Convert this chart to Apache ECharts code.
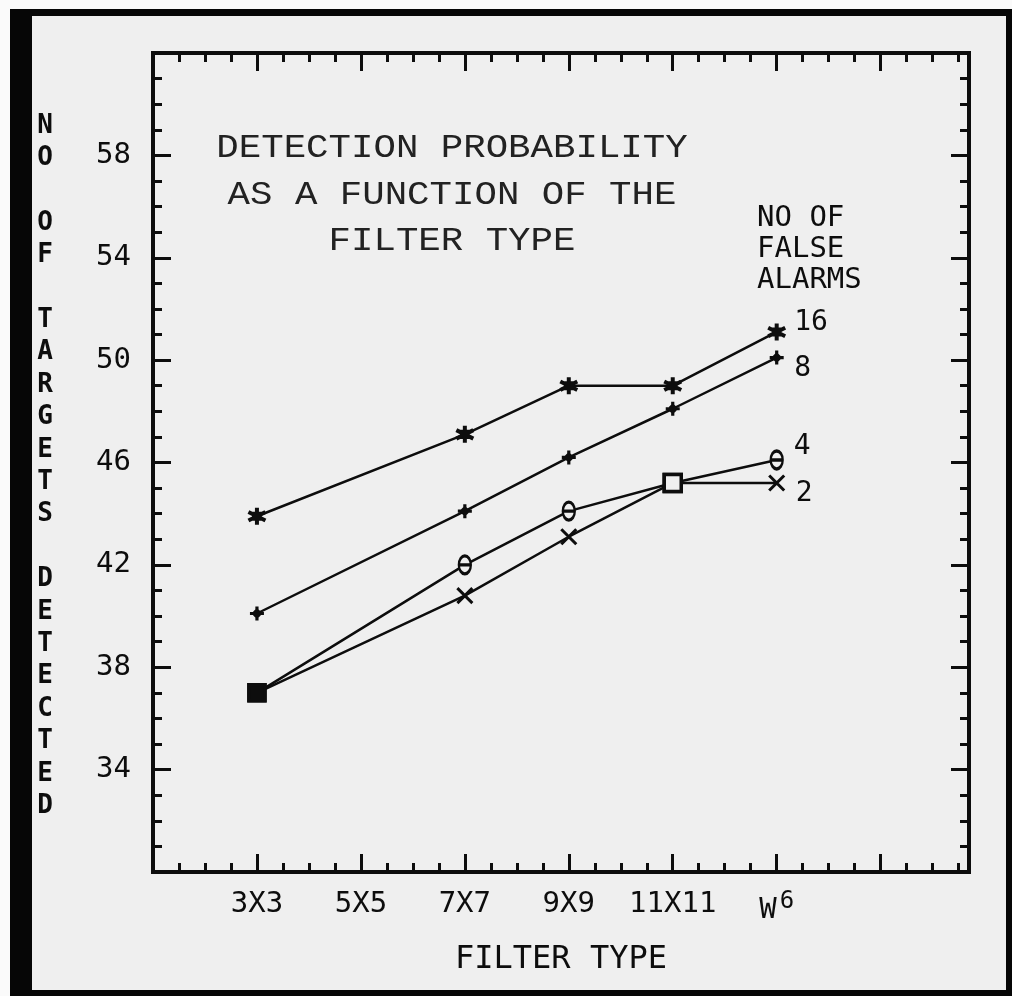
<!DOCTYPE html>
<html><head><meta charset="utf-8">
<script src="https://cdn.jsdelivr.net/npm/echarts@6/dist/echarts.min.js"></script>
<style>
html,body{margin:0;padding:0;background:#fafafa;}
#outer{position:absolute;left:10px;top:9px;width:1002px;height:987px;background:#060606;}
#inner{position:absolute;left:32px;top:16px;width:974px;height:974px;background:#efefef;}
#chart{position:absolute;left:0;top:0;width:1012px;height:996px;}
</style></head><body>
<div id="outer"></div><div id="inner"></div><div id="chart"></div>
<script>
// ---- data ----
const xLabels = ['3X3', '5X5', '7X7', '9X9', '11X11', 'W6'];
const pointCats = ['3X3', '7X7', '9X9', '11X11', 'W6'];
const seriesNames = ['16', '8', '4', '2'];
const fa16 = [43.9, 47.1, 49.0, 49.0, 51.1];
const fa8  = [40.1, 44.1, 46.2, 48.1, 50.1];
const fa4  = [37.0, 42.0, 44.1, 45.2, 46.1];
const fa2  = [37.0, 40.8, 43.1, 45.2, 45.2];
const yTickLabels = [34, 38, 42, 46, 50, 54, 58];
const titleLines = ['DETECTION PROBABILITY', 'AS A FUNCTION OF THE', 'FILTER TYPE'];
const yTitleWords = ['NO', 'OF', 'TARGETS', 'DETECTED'];
const legendTitle = ['NO OF', 'FALSE', 'ALARMS'];

// ---- helpers ----
const STEP = 4;
const xPos = c => (xLabels.indexOf(c) + 1) * STEP;
const INK = '#0d0d0d';
const BG = '#efefef';
const MONO = '"DejaVu Sans Mono", monospace';

const STAR6 = 'path://M5,0L5,10M0.67,2.5L9.33,7.5M0.67,7.5L9.33,2.5M3.5,3.5L6.5,3.5L6.5,6.5L3.5,6.5Z';
const PLUS  = 'path://M5,0L5,10M0,5L10,5M3,3L7,7M7,3L3,7';
const THETA = 'path://M5,0A4,5,0,1,1,5,10A4,5,0,1,1,5,0ZM1,5L9,5';
const CROSS = 'path://M0,0L10,10M10,0L0,10';

function overlap(i) { return fa4[i] === fa2[i]; }

function makeSeries(name, values, sym, size, fill, bw, lblOffset, checkOverlap) {
  return {
    name: name,
    type: 'line',
    showAllSymbol: true,
    symbol: sym,
    symbolSize: size,
    lineStyle: { color: INK, width: 2.5 },
    itemStyle: { color: fill, borderColor: INK, borderWidth: bw },
    z: 3,
    data: values.map((v, i) => {
      const d = { value: [xPos(pointCats[i]), v] };
      if (checkOverlap && overlap(i)) {
        d.symbol = 'rect';
        d.symbolSize = i === 0 ? 16 : 17;
        d.itemStyle = { color: i === 0 ? INK : BG, borderColor: INK, borderWidth: 3.5 };
      }
      if (i === values.length - 1) {
        d.label = {
          show: true, position: 'right', distance: 4, offset: lblOffset,
          formatter: name, color: INK, fontFamily: MONO, fontSize: 28
        };
      }
      return d;
    })
  };
}

function tickStyle() { return { color: INK, width: 3 }; }
function axisBase(isX) {
  return {
    type: 'value',
    min: isX ? 0 : 30,
    max: isX ? 31.4 : 62,
    interval: STEP,
    splitLine: { show: false },
    axisLine: { show: false, onZero: false },
    axisTick: { show: true, inside: true, length: 18, lineStyle: tickStyle() },
    minorTick: { show: true, splitNumber: 4, length: 9, lineStyle: tickStyle() },
    minorSplitLine: { show: false }
  };
}

const yTitleText = yTitleWords.map(w => w.split('').join('\n')).join('\n\n');

const option = {
  animation: false,
  backgroundColor: 'transparent',
  grid: {
    left: 153, top: 53, width: 816, height: 819,
    show: true, borderColor: INK, borderWidth: 4, backgroundColor: 'transparent',
    outerBoundsMode: 'none'
  },
  xAxis: [
    Object.assign(axisBase(true), {
      position: 'bottom',
      axisLabel: {
        show: true, margin: 18, color: INK, fontFamily: MONO, fontSize: 29,
        formatter: v => {
          const i = Math.round(v / STEP) - 1;
          if (Math.abs(v - (i + 1) * STEP) > 1e-6 || !xLabels[i]) return '';
          const s = xLabels[i];
          if (s === 'W6') return '{w|W}{s|6}';
          return s;
        },
        rich: {
          w: { fontFamily: MONO, fontSize: 29, color: INK },
          s: { fontFamily: MONO, fontSize: 24, color: INK, padding: [0, 0, 16, 3] }
        }
      },
      name: 'FILTER TYPE', nameLocation: 'middle', nameGap: 72,
      nameTextStyle: { color: INK, fontFamily: MONO, fontSize: 32 }
    }),
    Object.assign(axisBase(true), { position: 'top', axisLabel: { show: false } })
  ],
  yAxis: [
    Object.assign(axisBase(false), {
      position: 'left',
      axisLabel: {
        show: true, margin: 22, color: INK, fontFamily: MONO, fontSize: 29,
        formatter: v => (yTickLabels.indexOf(v) >= 0 ? String(v) : '')
      }
    }),
    Object.assign(axisBase(false), { position: 'right', axisLabel: { show: false } })
  ],
  graphic: [
    ...titleLines.map((t, i) => ({
      type: 'text', x: 452, y: [148, 195, 241][i], scaleX: 1.1,
      style: {
        text: t, fill: '#222', font: '34px "Liberation Mono", monospace',
        align: 'center', verticalAlign: 'middle'
      }
    })),
    {
      type: 'text', x: 45, y: 466,
      style: {
        text: yTitleText, fill: INK, font: 'bold 26px ' + MONO,
        align: 'center', verticalAlign: 'middle', lineHeight: 32.4
      }
    },
    {
      type: 'text', x: 757, y: 203,
      style: {
        text: legendTitle.join('\n'), fill: INK, font: '29px ' + MONO,
        align: 'left', verticalAlign: 'top', lineHeight: 31
      }
    }
  ],
  series: [
    makeSeries(seriesNames[0], fa16, STAR6, 17, INK, 4, [3, -9], false),
    makeSeries(seriesNames[1], fa8, PLUS, 14, INK, 3.2, [5, 11], false),
    makeSeries(seriesNames[2], fa4, THETA, [12, 18], BG, 2.8, [6, -13], true),
    makeSeries(seriesNames[3], fa2, CROSS, 15, INK, 3, [6, 11], true)
  ]
};

const chart = echarts.init(document.getElementById('chart'), null, { renderer: 'canvas' });
chart.setOption(option);
</script></body></html>
